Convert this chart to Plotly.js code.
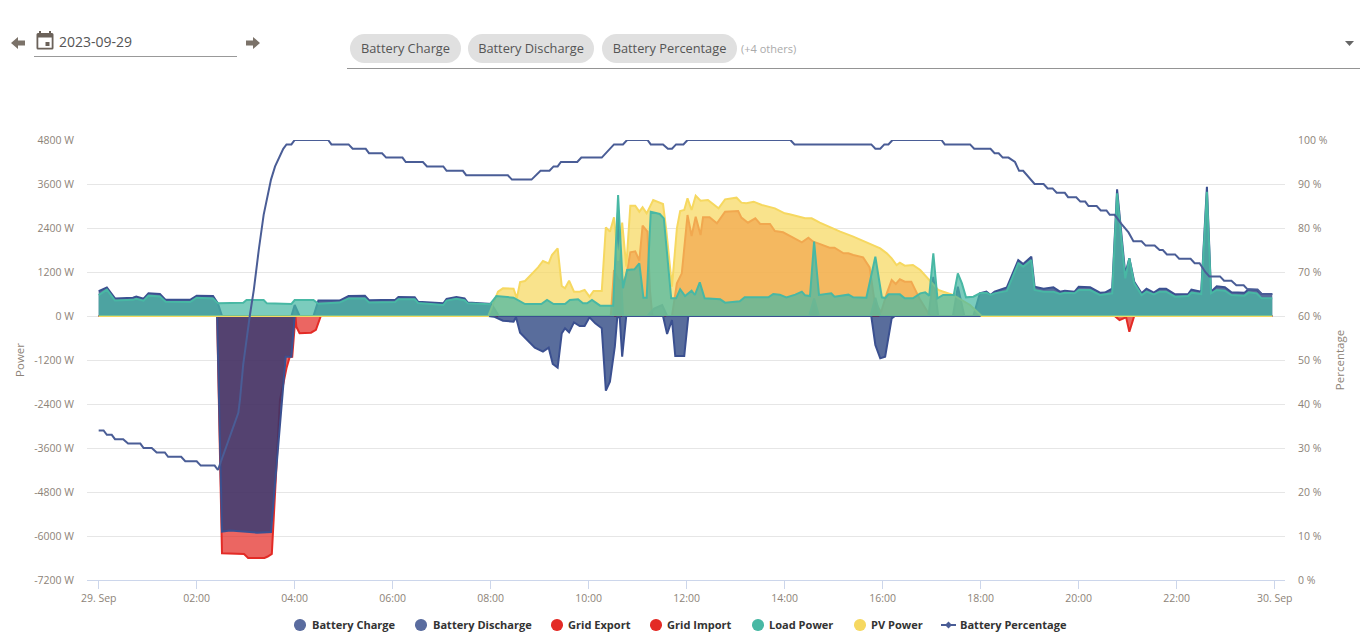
<!DOCTYPE html>
<html>
<head>
<meta charset="utf-8">
<script src="https://cdn.plot.ly/plotly-3.0.1.min.js"></script>
<style>
  html, body { margin: 0; padding: 0; background: #fff; overflow: hidden; font-family: "Open Sans", sans-serif; }
  #chart { position: absolute; left: 0; top: 0; width: 1365px; height: 643px; }
  .top { position: absolute; z-index: 2; }
  .chip { top: 34px; height: 29px; line-height: 29px; border-radius: 15px; background: #e0e0e0; color: #555; font-size: 12.8px; text-align: center; }
  .key { position: absolute; top: 617px; height: 16px; line-height: 16px; font-size: 11.05px; font-weight: 700; color: #333; white-space: nowrap; z-index: 2; }
  .dot { position: absolute; top: 619px; width: 11.5px; height: 11.5px; border-radius: 50%; z-index: 2; }
</style>
</head>
<body>
<div id="chart"></div>

<svg class="top" style="left:10px;top:36px" width="16" height="14" viewBox="0 0 16 14"><path d="M1 7 L8 1 V4.5 H15 V9.5 H8 V13 Z" fill="#7b7269"/></svg>
<svg class="top" style="left:36px;top:30px" width="18" height="20" viewBox="0 0 18 20"><path d="M3 1h2v2h8V1h2v2h1a1.5 1.5 0 0 1 1.5 1.5V18A1.5 1.5 0 0 1 16 19.5H2A1.5 1.5 0 0 1 .5 18V4.5A1.5 1.5 0 0 1 2 3h1zM2.3 7.5V17.7h13.4V7.5zM9.5 12h4v4h-4z" fill="#6b625a"/></svg>
<div class="top" style="left:59px;top:32px;font-size:14px;color:#555">2023-09-29</div>
<div class="top" style="left:34px;top:56px;width:203px;height:1px;background:#999"></div>
<svg class="top" style="left:245px;top:36px" width="16" height="14" viewBox="0 0 16 14"><path d="M15 7 L8 1 V4.5 H1 V9.5 H8 V13 Z" fill="#7b7269"/></svg>

<div class="top chip" style="left:350px;width:111px">Battery Charge</div>
<div class="top chip" style="left:468px;width:126px">Battery Discharge</div>
<div class="top chip" style="left:602px;width:135px">Battery Percentage</div>
<div class="top" style="left:741px;top:41px;font-size:11px;color:#aaa">(+4 others)</div>
<div class="top" style="left:347px;top:68px;width:1013px;height:1px;background:#949494"></div>
<svg class="top" style="left:1345px;top:41px" width="9" height="6" viewBox="0 0 9 6"><path d="M0 0H9L4.5 5Z" fill="#666"/></svg>

<div class="dot" style="left:294px;background:#5a6c9f"></div><div class="key" style="left:312px">Battery Charge</div>
<div class="dot" style="left:415px;background:#5a6c9f"></div><div class="key" style="left:433px">Battery Discharge</div>
<div class="dot" style="left:551px;background:#e32b26"></div><div class="key" style="left:568px">Grid Export</div>
<div class="dot" style="left:650px;background:#e32b26"></div><div class="key" style="left:667px">Grid Import</div>
<div class="dot" style="left:752px;background:#48b8a4"></div><div class="key" style="left:769px">Load Power</div>
<div class="dot" style="left:854px;background:#f6d860"></div><div class="key" style="left:871px">PV Power</div>
<svg class="top" style="left:941px;top:620px" width="15" height="10" viewBox="0 0 15 10"><path d="M0 5H15" stroke="#4a5d96" stroke-width="2"/><path d="M7.5 1.5L11 5L7.5 8.5L4 5Z" fill="#4a5d96"/></svg>
<div class="key" style="left:960px">Battery Percentage</div>

<script>
// all times are minutes after midnight on 29 Sep
const chargeMinutes = [0,145,151,161,177,194,211,225,229,236,240,477,484,495,508,511,516,534,544,551,556,562,567,571,576,582,589,595,601,608,616,621,626,632,635,638,641,646,691,696,702,706,717,722,946,951,957,963,971,975,1437];
const chargeWatts = [0,0,-5880,-5850,-5880,-5910,-5890,-2290,-1110,-1110,0,0,-18,-127,-155,-36,-455,-864,-973,-864,-1309,-1409,-473,-336,-445,-173,-273,-273,-36,-200,-336,-2036,-1791,-836,-36,-36,-1109,0,0,-491,-109,-1091,-1091,0,0,-791,-1155,-1109,-64,0,0];

const dischargeMinutes = [0,10,20,42,46,55,61,75,82,112,120,140,146,151,236,240,246,263,269,295,306,326,331,363,367,387,391,422,426,438,448,452,481,490,630,636,642,672,680,690,696,870,876,882,945,951,957,1016,1022,1028,1046,1052,1060,1071,1079,1087,1092,1097,1112,1126,1132,1142,1146,1157,1169,1177,1183,1195,1200,1214,1226,1232,1241,1247,1257,1262,1268,1277,1283,1292,1299,1307,1318,1334,1338,1350,1357,1362,1369,1379,1387,1403,1408,1418,1424,1437];
const dischargeWatts = [680,780,480,500,530,470,620,600,440,440,555,545,340,0,0,300,0,0,420,420,545,555,430,440,520,510,390,345,465,520,480,365,330,0,0,2900,0,0,200,300,0,0,480,0,0,500,0,0,1070,0,0,800,0,0,618,664,573,664,782,1527,1418,1618,800,745,782,664,691,664,800,782,636,640,745,3454,1150,1573,936,618,745,636,745,745,590,600,718,664,3527,664,809,782,645,636,727,709,600,600];

const exportMinutes = [0,627,631,636,641,646,651,657,662,666,672,675,678,702,708,714,721,726,731,737,740,748,757,767,783,787,795,804,810,822,828,838,848,861,869,875,881,895,901,912,918,924,936,944,950,958,965,971,976,981,987,995,1002,1005,1018,1437];
const exportWatts = [0,0,1255,1000,900,1100,1736,1764,1509,2464,2300,700,0,0,891,1164,2754,2182,2709,2209,2691,2691,2527,2845,2864,2682,2545,2664,2509,2509,2318,2282,2164,2009,2136,2027,1982,1864,1864,1709,1709,1664,1600,1327,400,100,618,982,873,1000,936,936,618,480,0,0];

const importMinutes = [0,145,151,167,178,183,203,207,212,222,230,234,237,241,242,246,260,266,272,1244,1247,1250,1255,1258,1262,1268,1437];
const importWatts = [0,0,-6470,-6490,-6490,-6600,-6600,-6560,-6490,-2290,-1420,-1110,-1110,0,-290,-470,-455,-380,0,0,-64,-110,-64,-30,-427,0,0];

const loadMinutes = [0,10,20,42,46,55,61,75,82,112,120,140,146,177,181,202,206,236,240,263,269,295,306,326,331,363,367,387,391,422,426,438,448,452,479,487,508,522,542,549,557,571,577,587,593,598,604,614,630,636,642,647,656,662,667,671,676,687,692,701,707,712,718,726,730,736,742,761,767,785,791,820,826,834,842,853,861,865,871,876,882,897,901,918,924,940,951,959,963,967,981,987,997,1006,1012,1017,1022,1027,1034,1047,1052,1057,1062,1071,1079,1087,1092,1097,1112,1126,1132,1142,1146,1157,1169,1177,1183,1195,1200,1214,1226,1241,1247,1257,1262,1268,1277,1283,1292,1299,1307,1318,1334,1338,1350,1357,1362,1369,1379,1387,1403,1408,1418,1424,1437];
const loadWatts = [570,720,420,440,470,420,555,530,390,380,500,480,345,360,435,435,345,330,435,435,335,365,480,480,370,380,460,455,355,300,420,470,430,345,320,545,500,327,327,436,327,327,436,455,345,345,436,282,282,3300,755,1255,1273,1436,500,500,2845,2782,2664,482,482,727,545,691,573,918,482,455,364,400,509,509,600,582,509,582,664,564,545,2027,573,618,527,582,509,500,1618,509,490,590,590,482,482,618,645,555,1709,482,573,573,1164,890,509,527,618,636,573,618,682,1436,1345,1527,709,664,664,600,636,618,709,709,573,618,3345,1027,1573,890,573,664,590,664,664,527,545,636,600,3390,618,709,691,573,555,645,618,482,482];

const pvMinutes = [0,477,489,495,508,512,516,522,538,544,551,555,562,567,571,576,582,589,595,601,606,616,621,626,631,636,641,646,651,657,662,666,671,679,691,695,702,708,712,717,721,726,731,737,746,759,767,781,787,793,802,812,828,840,846,865,873,883,899,908,924,944,957,965,971,977,981,987,997,1006,1028,1046,1067,1081,1437];
const pvWatts = [0,0,664,755,745,482,927,955,1327,1500,1436,1664,1845,818,755,964,664,664,709,527,682,682,2418,2300,2690,1500,2545,1345,3009,3009,2845,2964,2800,3164,3054,2345,800,2391,2864,2890,3209,2890,3282,3145,3164,2936,3182,3227,3091,3073,3118,3027,2936,2800,2773,2664,2664,2545,2391,2300,2164,1982,1845,1709,1573,1391,1455,1373,1391,1255,709,573,300,0,0];

const percentMinutes = [0,6,10,16,20,30,36,51,55,65,71,81,85,101,106,120,125,142,146,171,173,177,185,190,196,202,211,216,226,230,236,240,281,285,306,311,327,331,347,352,372,376,397,402,422,426,446,450,501,506,530,541,552,557,562,566,586,591,616,631,642,647,672,676,691,697,702,707,716,721,847,852,946,951,957,962,967,972,1032,1036,1067,1072,1092,1097,1102,1107,1114,1122,1127,1132,1146,1157,1162,1168,1173,1183,1187,1197,1202,1208,1212,1222,1227,1234,1238,1244,1252,1261,1267,1277,1282,1293,1299,1303,1308,1318,1323,1337,1342,1348,1355,1360,1373,1378,1387,1393,1402,1407,1419,1424,1437];
const percentValues = [34,34,33,33,32,32,31,31,30,30,29,29,28,28,27,27,26,26,25,38,41,49,60,66,75,83,91,94,98,99,99,100,100,99,99,98,98,97,97,96,96,95,95,94,94,93,93,92,92,91,91,93,93,94,94,95,95,96,96,99,99,100,100,99,99,98,98,99,99,100,100,99,99,98,98,99,99,100,100,99,99,98,98,97,97,96,96,95,93,93,90,90,89,89,88,88,87,87,86,86,85,85,84,84,83,83,81,79,77,77,76,76,75,75,74,74,73,73,72,72,70,69,69,68,68,67,67,66,66,65,65];

const powerTicks = [-7200,-6000,-4800,-3600,-2400,-1200,0,1200,2400,3600,4800];
const percentTicks = [0,10,20,30,40,50,60,70,80,90,100];
const hourTicks = [0,120,240,360,480,600,720,840,960,1080,1200,1320,1440];
const hourLabels = ["29. Sep","02:00","04:00","06:00","08:00","10:00","12:00","14:00","16:00","18:00","20:00","22:00","30. Sep"];

const day = Date.UTC(2023, 8, 29);
const toTime = (m) => day + m * 60000;

function area(name, minutes, values, line, fill) {
  return {
    x: minutes.map(toTime),
    y: values,
    name: name,
    type: "scatter",
    mode: "lines",
    fill: "tozeroy",
    fillcolor: fill,
    line: { color: line, width: 2 },
  };
}

const blueLine = "#3b5090";
const blueFill = "rgba(25,52,118,0.72)";
const redLine = "#e32b26";
const redFill = "rgba(227,43,38,0.72)";
const tealLine = "#48b8a4";
const tealFill = "rgba(72,184,164,0.72)";
const yellowLine = "#f6d860";
const yellowFill = "rgba(246,216,96,0.72)";

// order matters: red goes under blue and yellow, teal stays on top
const traces = [
  area("Grid Export", exportMinutes, exportWatts, redLine, redFill),
  area("Grid Import", importMinutes, importWatts, redLine, redFill),
  area("Battery Charge", chargeMinutes, chargeWatts, blueLine, blueFill),
  area("Battery Discharge", dischargeMinutes, dischargeWatts, blueLine, blueFill),
  area("PV Power", pvMinutes, pvWatts, yellowLine, yellowFill),
  area("Load Power", loadMinutes, loadWatts, tealLine, tealFill),
  {
    x: percentMinutes.map(toTime),
    y: percentValues,
    yaxis: "y2",
    name: "Battery Percentage",
    type: "scatter",
    mode: "lines",
    line: { color: "#4a5d96", width: 2 },
  },
];

const tickFont = { family: "Open Sans", size: 10.5, color: "#8d8378" };
const titleFont = { family: "Open Sans", size: 11.5, color: "#8d8378" };

const layout = {
  width: 1365,
  height: 643,
  margin: { l: 87, r: 80, t: 140, b: 63, autoexpand: false },
  paper_bgcolor: "rgba(0,0,0,0)",
  plot_bgcolor: "#fff",
  showlegend: false,
  xaxis: {
    type: "date",
    range: [toTime(-14.3), toTime(1452.6)],
    tickvals: hourTicks.map(toTime),
    ticktext: hourLabels,
    tickfont: tickFont,
    ticks: "outside",
    ticklen: 8,
    tickcolor: "#ccd6eb",
    showgrid: false,
    zeroline: false,
    showline: true,
    linecolor: "#ccd6eb",
    linewidth: 1,
  },
  yaxis: {
    range: [-7200, 4800],
    tickvals: powerTicks,
    ticktext: powerTicks.map((v) => v + " W"),
    tickfont: tickFont,
    ticklabelstandoff: 12,
    gridcolor: "#e6e6e6",
    zeroline: false,
    title: { text: "Power", font: titleFont, standoff: 7 },
  },
  yaxis2: {
    range: [0, 100],
    overlaying: "y",
    side: "right",
    tickvals: percentTicks,
    ticktext: percentTicks.map((v) => v + " %"),
    tickfont: tickFont,
    ticklabelstandoff: 12,
    showgrid: false,
    zeroline: false,
    title: { text: "Percentage", font: titleFont, standoff: 9 },
  },
};

Plotly.newPlot("chart", traces, layout, { displayModeBar: false });
</script>
</body>
</html>
